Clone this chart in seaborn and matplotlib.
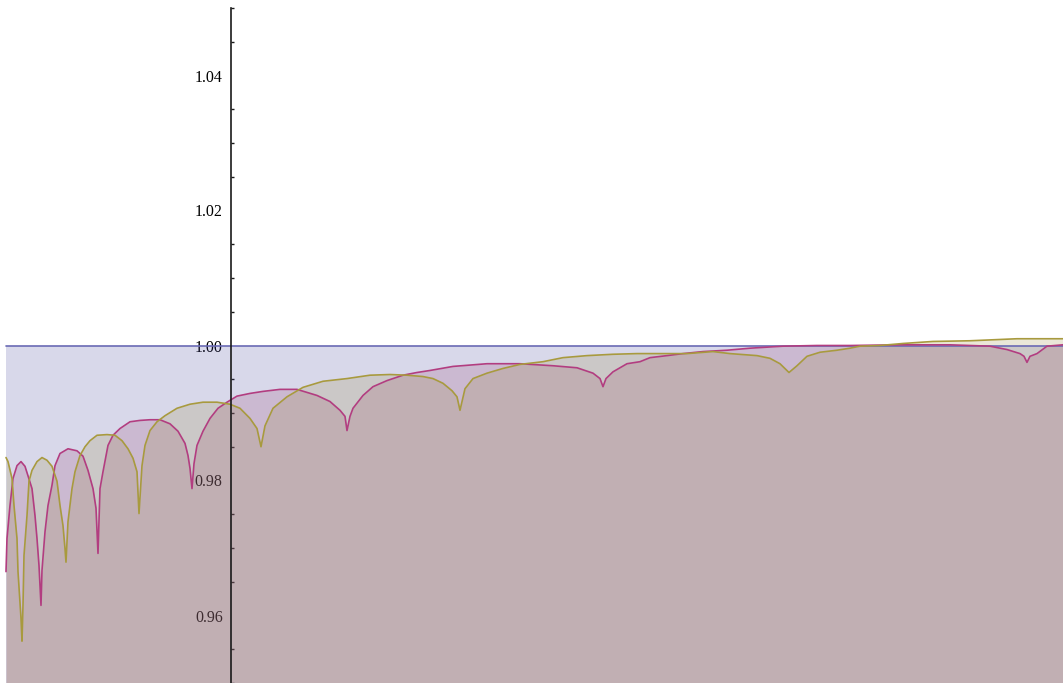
import matplotlib
matplotlib.use("Agg")
import matplotlib.pyplot as plt
from matplotlib.ticker import MultipleLocator, FixedLocator
import seaborn as sns

# ---- data ----
blue_x = [-225, 832]
blue_y = [1.0, 1.0]

magenta_x = [-225, -224, -221, -218, -214, -210, -206, -203, -199, -196, -194, -192, -190,
             -189, -186, -183, -179, -176, -171, -163, -154, -148, -143, -138, -135, -133,
             -131, -128, -123, -118, -111, -101, -91, -81, -71, -61, -53, -46, -43, -41, -39,
             -37, -34, -28, -21, -13, -4, 6, 19, 32, 49, 66, 86, 99, 109, 114, 116,
             119, 122, 132, 142, 156, 172, 186, 199, 222, 256, 289, 322, 346, 362, 369, 372,
             375, 382, 396, 409, 419, 436, 452, 472, 496, 519, 552, 586, 619, 669, 719, 759,
             776, 789, 793, 796, 799, 806, 816, 832]
magenta_y = [0.9665, 0.9714, 0.9763, 0.9803, 0.9822, 0.9828, 0.9821, 0.9807, 0.9788, 0.9748, 0.9714, 0.9674, 0.9615,
             0.9667, 0.9724, 0.9763, 0.9793, 0.9822, 0.9840, 0.9847, 0.9844, 0.9836, 0.9815, 0.9788, 0.9759, 0.9692,
             0.9788, 0.9813, 0.9852, 0.9867, 0.9877, 0.9887, 0.9889, 0.9890, 0.9890, 0.9884, 0.9873, 0.9855, 0.9837, 0.9818, 0.9788,
             0.9825, 0.9852, 0.9873, 0.9892, 0.9907, 0.9916, 0.9925, 0.9929, 0.9932, 0.9935, 0.9935, 0.9926, 0.9917, 0.9904, 0.9895, 0.9874,
             0.9895, 0.9907, 0.9926, 0.9939, 0.9948, 0.9956, 0.9960, 0.9963, 0.9969, 0.9973, 0.9973, 0.9970, 0.9967, 0.9959, 0.9951, 0.9939,
             0.9951, 0.9961, 0.9973, 0.9976, 0.9982, 0.9985, 0.9988, 0.9991, 0.9993, 0.9996, 0.9999, 1.0000, 1.0000, 1.0001, 1.0001, 0.9999,
             0.9994, 0.9988, 0.9984, 0.9975, 0.9984, 0.9988, 0.9999, 1.0001]

olive_x = [-225, -223, -219, -217, -214, -213, -210, -209, -208, -207, -204, -202, -199, -194,
           -189, -184, -179, -174, -171, -168, -166, -165, -163, -159, -156, -151, -146, -141,
           -134, -124, -116, -109, -103, -98, -94, -92, -89, -86, -81, -74, -66, -54, -41,
           -28, -14, -1, 9, 19, 26, 30, 34, 42, 56, 72, 92, 116, 139, 159, 176, 192, 202,
           212, 221, 226, 229, 234, 242, 256, 272, 289, 312, 332, 356, 382, 406, 432, 456,
           482, 499, 526, 539, 549, 558, 566, 576, 589, 606, 619, 629, 649, 672, 702, 739,
           786, 832]
olive_y = [0.9834, 0.9828, 0.9803, 0.9763, 0.9714, 0.9665, 0.9596, 0.9562, 0.9615, 0.9689, 0.9748, 0.9799, 0.9815, 0.9828,
           0.9834, 0.9830, 0.9821, 0.9799, 0.9763, 0.9733, 0.9699, 0.9679, 0.9739, 0.9788, 0.9813, 0.9837, 0.9850, 0.9859,
           0.9867, 0.9868, 0.9867, 0.9859, 0.9847, 0.9833, 0.9813, 0.9751, 0.9822, 0.9852, 0.9874, 0.9887, 0.9896, 0.9907, 0.9913,
           0.9916, 0.9916, 0.9913, 0.9907, 0.9892, 0.9877, 0.9850, 0.9881, 0.9907, 0.9924, 0.9938, 0.9947, 0.9951, 0.9956, 0.9957, 0.9956, 0.9954, 0.9951,
           0.9944, 0.9933, 0.9924, 0.9904, 0.9936, 0.9951, 0.9959, 0.9966, 0.9972, 0.9976, 0.9982, 0.9985, 0.9987, 0.9988, 0.9988, 0.9988,
           0.9991, 0.9988, 0.9985, 0.9981, 0.9973, 0.9960, 0.9970, 0.9984, 0.9990, 0.9993, 0.9996, 0.9999, 1.0000, 1.0003, 1.0006, 1.0007,
           1.0010, 1.0010]

y_ticks = [0.96, 0.98, 1.00, 1.02, 1.04]
y_tick_labels = ["0.96", "0.98", "1.00", "1.02", "1.04"]

# ---- style ----
sns.set_style("white")
plt.rcParams["font.family"] = ["Liberation Serif", "DejaVu Serif"]

fill_blue = (0.24, 0.24, 0.6)
fill_mag = (0.6, 0.24, 0.4428)
fill_olive = (0.6, 0.547, 0.24)
line_blue = "#6a6ab4"
line_mag = "#b23d80"
line_olive = "#a89a3e"

fig = plt.figure(figsize=(10.63, 6.83), dpi=100)
ax = fig.add_axes([0, 0, 1, 675 / 683])
ax.set_xlim(-231, 832)
ax.set_ylim(0.95, 1.05)

base = 0.95
for xs, ys, c in [(blue_x, blue_y, fill_blue), (magenta_x, magenta_y, fill_mag), (olive_x, olive_y, fill_olive)]:
    ax.fill_between(xs, ys, base, color=c, alpha=0.2, lw=0, zorder=1)

for xs, ys, c in [(blue_x, blue_y, line_blue), (magenta_x, magenta_y, line_mag), (olive_x, olive_y, line_olive)]:
    sns.lineplot(x=xs, y=ys, sort=False, estimator=None, color=c, lw=1.2, ax=ax, zorder=2)

for s in ["top", "right", "bottom"]:
    ax.spines[s].set_visible(False)
ax.spines["left"].set_position(("data", 0))
ax.spines["left"].set_color("#1a1a1a")
ax.spines["left"].set_linewidth(1.2)
ax.spines["left"].set_zorder(5)

ax.set_xticks([])
ax.yaxis.set_major_locator(FixedLocator(y_ticks))
ax.set_yticklabels(y_tick_labels)
ax.yaxis.set_minor_locator(MultipleLocator(0.005))
ax.tick_params(axis="y", which="major", direction="in", length=4, width=1, colors="#1a1a1a",
               labelsize=11.5, labelcolor="black", pad=6)
ax.tick_params(axis="y", which="minor", direction="in", length=2, width=1, colors="#1a1a1a", left=True)
ax.set_xlabel("")
ax.set_ylabel("")
ax.patch.set_alpha(0)

fig.savefig("out.png", dpi=100)
